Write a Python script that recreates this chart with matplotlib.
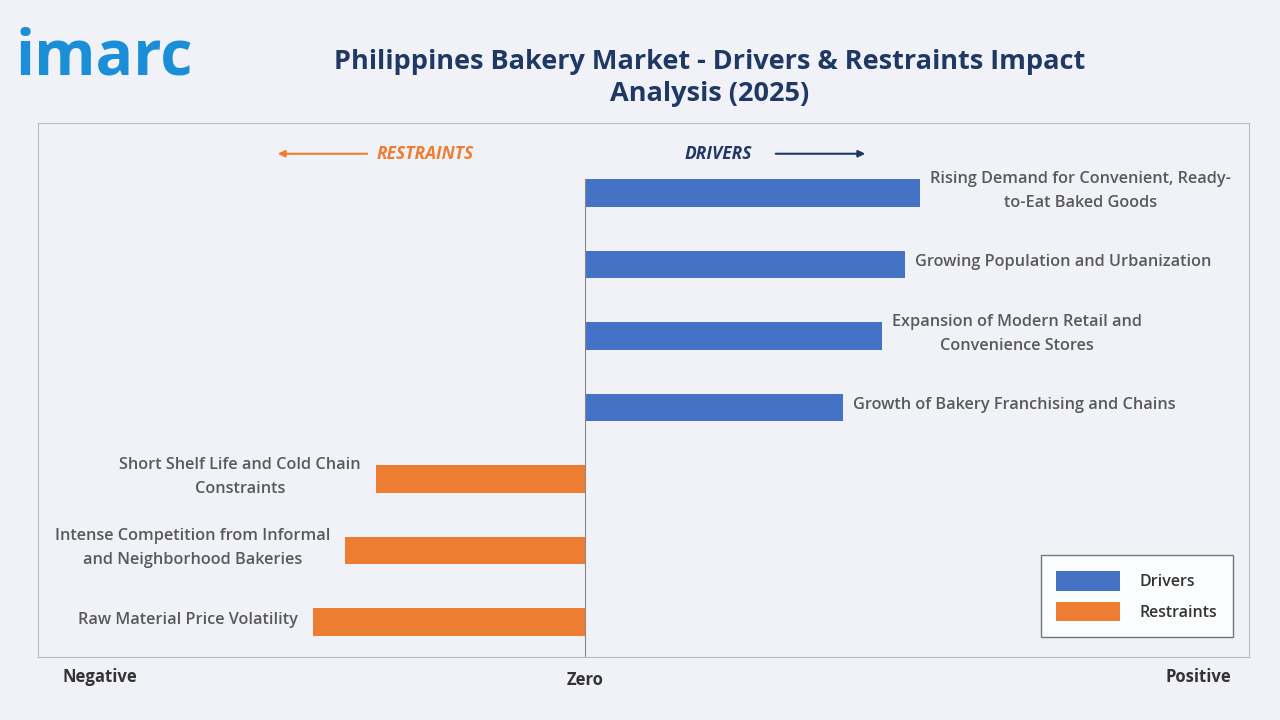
import matplotlib.pyplot as plt

plt.rcParams['font.family'] = ['Open Sans', 'DejaVu Sans']

drivers = ['Rising Demand for Convenient, Ready-\nto-Eat Baked Goods',
           'Growing Population and Urbanization',
           'Expansion of Modern Retail and\nConvenience Stores',
           'Growth of Bakery Franchising and Chains']
driver_vals = [335, 320, 297, 258]
restraints = ['Short Shelf Life and Cold Chain\nConstraints',
              'Intense Competition from Informal\nand Neighborhood Bakeries',
              'Raw Material Price Volatility']
restraint_vals = [-209, -240, -272]

blue = '#4472C4'
orange = '#ED7D31'
gray = '#595959'
bg = '#F0F2F7'

fig = plt.figure(figsize=(12.8, 7.2), dpi=100, facecolor=bg)
ax = fig.add_axes([38/1280, 1-657/720, (1249-38)/1280, (657-123)/720])
ax.set_facecolor(bg)
for s in ax.spines.values():
    s.set_color('#BBBBBB')
ax.set_xticks([])
ax.set_yticks([])
ax.set_xlim(-547, 664)
ax.set_ylim(6.49, -0.98)

ypos = list(range(7))
h = 0.38
ax.barh(ypos[:4], driver_vals, height=h, color=blue, label='Drivers')
ax.barh(ypos[4:], restraint_vals, height=h, color=orange, label='Restraints')
ax.plot([0, 0], [-h/2, 6.49], color='#888888', lw=0.8)

for y, v, t in zip(ypos[:4], driver_vals, drivers):
    ax.text(v + 10, y - 0.03, t, ha='left', va='center', multialignment='center',
            fontsize=11.7, color=gray, fontweight='semibold', linespacing=1.65)
for y, v, t in zip(ypos[4:], restraint_vals, restraints):
    ax.text(v - 15, y - 0.03, t, ha='right', va='center', multialignment='center',
            fontsize=11.7, color=gray, fontweight='semibold', linespacing=1.65)

# header arrows
ax.annotate('', xy=(-310, -0.55), xytext=(-215, -0.55),
            arrowprops=dict(arrowstyle='-|>', color=orange, lw=1.5))
ax.text(-208, -0.55, 'RESTRAINTS', color=orange, fontsize=12.5, fontstyle='italic',
        fontweight='bold', va='center', ha='left')
ax.text(100, -0.55, 'DRIVERS', color='#1F3864', fontsize=12.5, fontstyle='italic',
        fontweight='bold', va='center', ha='left')
ax.annotate('', xy=(283, -0.55), xytext=(188, -0.55),
            arrowprops=dict(arrowstyle='-|>', color='#1F3864', lw=1.5))

leg = ax.legend(loc='lower right', bbox_to_anchor=(0.9935, 0.022), fontsize=11.5,
                frameon=True, fancybox=False, edgecolor='#555555', handlelength=4.0,
                handleheight=1.5, borderpad=1.0, labelspacing=0.7, handletextpad=1.2)
leg.get_frame().set_facecolor('white')
for t in leg.get_texts():
    t.set_color('#333333')
    t.set_fontweight('semibold')

fig.text(100/1280, 1-677/720, 'Negative', ha='center', va='center', fontsize=12,
         fontweight='bold', color='#333333')
fig.text(585/1280, 1-680/720, 'Zero', ha='center', va='center', fontsize=12,
         fontweight='bold', color='#333333')
fig.text(1198/1280, 1-677/720, 'Positive', ha='center', va='center', fontsize=12,
         fontweight='bold', color='#333333')

fig.text(710/1280, 1-78/720, 'Philippines Bakery Market - Drivers & Restraints Impact\nAnalysis (2025)',
         ha='center', va='center', fontsize=19.5, fontweight='bold', color='#1F3864',
         linespacing=1.3)
fig.text(16/1280, 1-58/720, 'imarc', ha='left', va='center', fontsize=45,
         fontweight='bold', color='#1A8FD8')

fig.savefig('out.png', dpi=100, facecolor=bg)
